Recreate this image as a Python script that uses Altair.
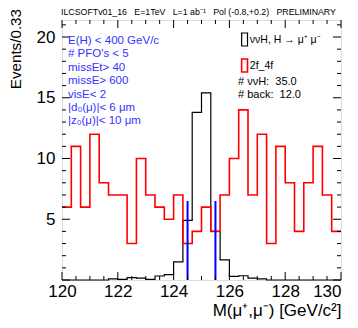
import altair as alt
import pandas as pd

# ---------------- data ----------------
mass_start = 120.0
bin_width = 1.0 / 3.0
series_names = ["ννH, H → μ⁺ μ⁻", "2f_4f"]
signal_counts = [0, 0, 0, 0, 0, 0.1, 0.05, 0.2, 0.15, 0.05,
                 0.33, 0.45, 1.5, 4.9, 13.8, 15.4, 4.0, 1.65, 0.3, 0.35,
                 0.15, 0.1, 0, 0, 0, 0, 0, 0, 0, 0]
background_counts = [6, 11, 6, 12, 8, 7, 7, 3, 10, 7,
                     6, 5, 7, 3, 4, 6, 4, 7, 10, 14,
                     7, 12, 3, 11, 8, 4, 8, 11, 7, 4]
cut_lines_x = [124.5, 125.5]
cut_line_top = [6.5, 6.5]
x_label_values = [120, 122, 124, 126, 128, 130]
y_label_values = [5, 10, 15, 20]
x_major_ticks = [120, 122, 124, 126, 128, 130]
x_minor_ticks = [120 + 0.5 * i for i in range(21) if i % 4 != 0]
y_major_ticks = [0, 5, 10, 15, 20]
y_minor_ticks = [i for i in range(22) if i % 5 != 0]
cut_text = ["E(H) < 400 GeV/c", "# PFO's < 5", "missEt> 40", "missE> 600",
            "visE< 2", "|d₀(μ)|< 6 μm", "|z₀(μ)|< 10 μm"]
count_text = ["# ννH:\u00a0\u00a035.0", "# back:\u00a0\u00a012.0"]
header_text = ("ILCSOFTv01_16\u00a0\u00a0\u00a0E=1TeV\u00a0\u00a0\u00a0L=1 ab⁻¹"
               "\u00a0\u00a0\u00a0Pol (-0.8,+0.2)\u00a0\u00a0\u00a0PRELIMINARY")

# ---------------- build table ----------------
rows = []
for name, counts in zip(series_names, [signal_counts, background_counts]):
    for i, c in enumerate(counts):
        rows.append({"series": name, "mass": mass_start + i * bin_width, "count": c})
    rows.append({"series": name, "mass": mass_start + len(counts) * bin_width,
                 "count": counts[-1]})
hist_df = pd.DataFrame(rows)

W, H = 279, 260
FONT = "Liberation Sans"
xs = alt.Scale(domain=[120, 130], nice=False, zero=False)
ys = alt.Scale(domain=[0, 21.4], nice=False, zero=True)

x_axis = alt.Axis(
    values=x_label_values, ticks=False, domain=False, grid=False,
    labelFontSize=17, labelPadding=3, labelFlush=False, labelColor="black",
    labelAlign={"condition": {"test": "datum.value >= 130", "value": "right"}, "value": "center"},
    labelFont=FONT, title="M(μ⁺,μ⁻) [GeV/c²]", titleFont=FONT,
    titleFontSize=17, titleFontWeight="normal", titleAnchor="end",
    titlePadding=3, titleColor="black")
y_axis = alt.Axis(
    values=y_label_values, ticks=False, domain=False, grid=False,
    labelFontSize=17, labelPadding=7, labelColor="black", labelFont=FONT,
    title=None)

hist = alt.Chart(hist_df).mark_line(interpolate="step-after").encode(
    x=alt.X("mass:Q", scale=xs, axis=x_axis),
    y=alt.Y("count:Q", scale=ys, axis=y_axis),
    color=alt.Color("series:N", scale=alt.Scale(domain=series_names, range=["black", "red"]),
                    legend=alt.Legend(orient="none", legendX=171.5, legendY=12, title=None,
                                      symbolType="M0.1,-1L1,-1L1,1L0.1,1Z",
                                      symbolSize=169, symbolStrokeWidth=1.2,
                                      symbolFillColor="transparent",
                                      labelFontSize=10.5, labelFont=FONT, labelColor="black",
                                      labelOffset=1.3, rowPadding=6)),
    strokeWidth=alt.StrokeWidth("series:N", scale=alt.Scale(domain=series_names, range=[1.2, 1.6]),
                                legend=None),
    order="mass:Q",
)

cut_df = pd.DataFrame({"mass": cut_lines_x, "top": cut_line_top})
cuts = alt.Chart(cut_df).mark_rule(color="#0000ff", strokeWidth=2).encode(
    x=alt.X("mass:Q", scale=xs, axis=x_axis),
    y=alt.Y("zero:Q", scale=ys, axis=y_axis),
    y2="top:Q",
).transform_calculate(zero="0")


def ticks(values, side, length):
    df = pd.DataFrame({"mass": values, "count": values})
    base = alt.Chart(df).mark_rule(color="black", strokeWidth=1)
    if side == "bottom":
        return base.encode(x=alt.X("mass:Q", scale=xs, axis=x_axis), y=alt.value(H), y2=alt.value(H - length))
    if side == "top":
        return base.encode(x=alt.X("mass:Q", scale=xs, axis=x_axis), y=alt.value(0), y2=alt.value(length))
    if side == "left":
        return base.encode(y=alt.Y("count:Q", scale=ys, axis=y_axis), x=alt.value(0), x2=alt.value(length))
    return base.encode(y=alt.Y("count:Q", scale=ys, axis=y_axis), x=alt.value(W), x2=alt.value(W - length))


tick_layers = []
for side in ["bottom", "top"]:
    tick_layers.append(ticks(x_major_ticks, side, 8))
    tick_layers.append(ticks(x_minor_ticks, side, 4))
for side in ["left", "right"]:
    tick_layers.append(ticks(y_major_ticks, side, 8))
    tick_layers.append(ticks(y_minor_ticks, side, 4))

one = pd.DataFrame({"a": [0]})
header = alt.Chart(one).mark_text(align="left", baseline="middle", fontSize=8.8, font=FONT,
                                  color="black").encode(
    x=alt.value(-1), y=alt.value(-8), text=alt.value(header_text))
ytitle = alt.Chart(one).mark_text(align="right", baseline="middle", angle=270, fontSize=15.2,
                                  font=FONT, color="black").encode(
    x=alt.value(-46), y=alt.value(-11), text=alt.value("Events/0.33"))
cut_label = alt.Chart(one).mark_text(align="left", baseline="top", fontSize=11.5, font=FONT,
                                     color="#3333ff", lineHeight=13.4).encode(
    x=alt.value(6), y=alt.value(15), text=alt.value(cut_text))
count_label = alt.Chart(one).mark_text(align="left", baseline="top", fontSize=11, font=FONT,
                                       color="black", lineHeight=12.5).encode(
    x=alt.value(176), y=alt.value(56), text=alt.value(count_text))

chart = alt.layer(hist, cuts, *tick_layers, header, ytitle, cut_label, count_label).properties(
    width=W, height=H,
    autosize=alt.AutoSizeParams(type="none"),
    padding={"left": 54, "top": 12, "right": 9, "bottom": 40},
).configure_view(stroke="black", strokeWidth=1).configure(background="white")

chart.save("out.html", embed_options={"renderer": "svg", "actions": False})
